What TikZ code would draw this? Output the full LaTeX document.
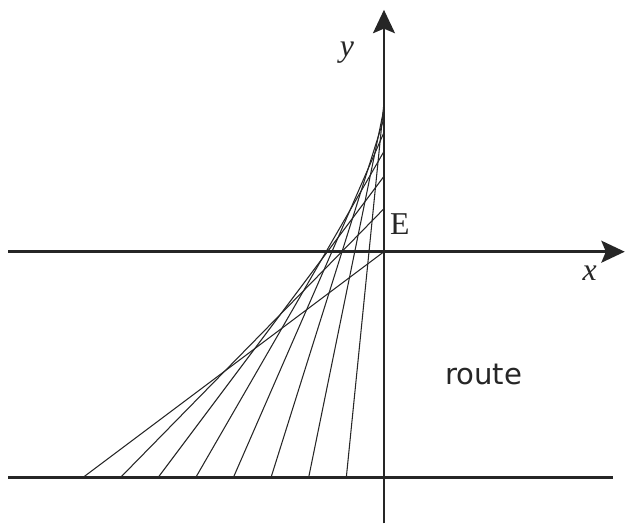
\documentclass[tikz,border=0pt]{standalone}
\usepackage{fontspec}
\setmainfont{Liberation Serif}
\newfontfamily\routefont{DejaVu Sans}
\usepackage{tikz}
\usetikzlibrary{arrows.meta, calc}
\tikzset{
  axis/.style={line width=2.2pt, color=black!85},
  rung/.style={line width=0.8pt, color=black!85},
  lbl/.style={font=\fontsize{24}{28}\selectfont, text=black!85, inner sep=0pt},
  tip/.style={-{Stealth[length=0.62cm, width=0.58cm, inset=0.12cm]}},
}
\begin{document}
\begin{tikzpicture}[x=1cm, y=1cm]
  \useasboundingbox (-10.19,-7.21) rectangle (6.45,6.68);
  % axes and floor
  \coordinate (xl) at (-9.97,0);
  \coordinate (xr) at (6.39,0);
  \coordinate (yb) at (0,-7.21);
  \coordinate (yt) at (0,6.42);
  \coordinate (fl) at (-9.97,-6);
  \coordinate (fr) at (6.07,-6);
  \draw[axis, tip] (xl) -- (xr);
  \draw[axis, tip] (yb) -- (yt);
  \draw[axis] (fl) -- (fr);
  % ladder positions, length 10
  \foreach \k in {1,...,8}
    { \coordinate (foot\k) at (-\k,-6);
      \coordinate (head\k) at ({0},{-6+sqrt(100-\k*\k)});
      \draw[rung] (foot\k) -- (head\k); }
  \node[lbl, font=\fontsize{24}{28}\selectfont\itshape] (ylab) at (-0.98,5.28) {y};
  \node[lbl, font=\fontsize{24}{28}\selectfont\itshape] (xlab) at (5.46,-0.56) {x};
  \node[lbl] (elab) at (0.42,0.72) {E};
  \node[lbl, font=\routefont\fontsize{22}{26}\selectfont] (route) at (2.65,-3.26) {route};
\end{tikzpicture}
\end{document}
